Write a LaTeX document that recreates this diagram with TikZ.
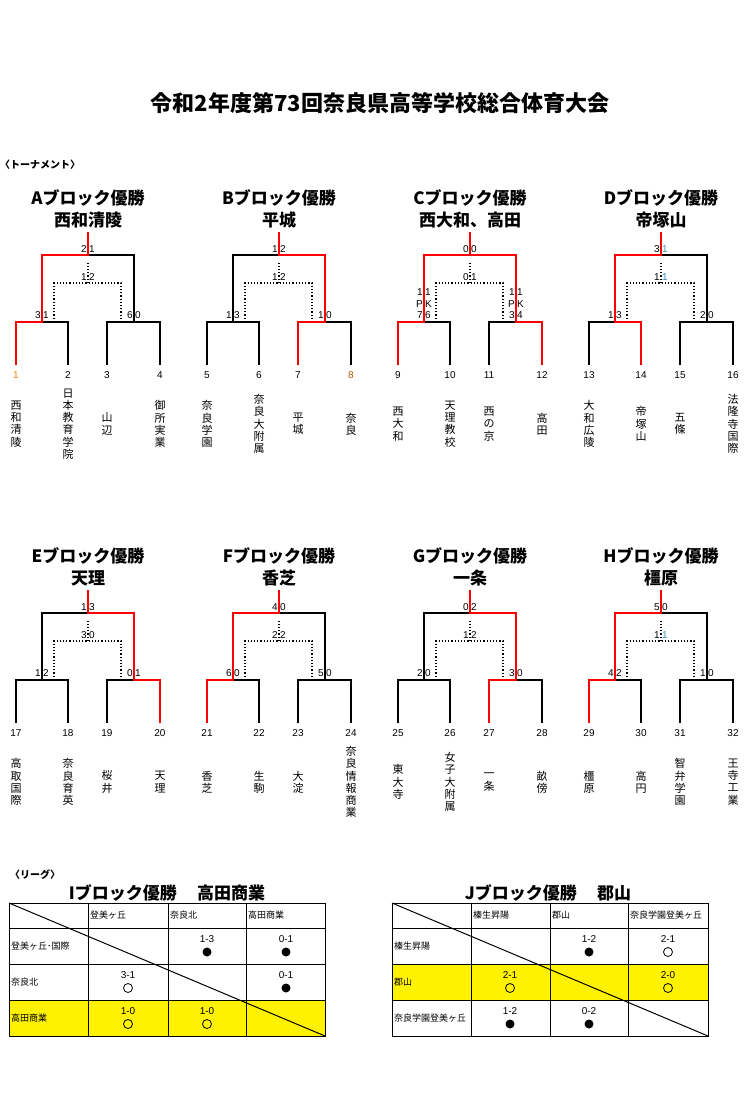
\documentclass[tikz,border=0pt]{standalone}
\usepackage{fontspec}
\setmainfont{Noto Sans CJK JP}
\newfontfamily\ar{Liberation Sans}
\tikzset{
 bl/.style={line width=1.4pt,black},
 wp/.style={line width=2.4pt,red},
 dl/.style={line width=1.2pt,dotted},
 sc/.style={font=\ar\fontsize{10}{11}\selectfont,inner sep=0pt},
 nm/.style={font=\fontsize{11}{12.3}\selectfont,align=center,inner sep=0pt},
 ttl/.style={font=\bfseries\fontsize{17}{19}\selectfont,inner sep=0pt},
 tx/.style={font=\fontsize{9}{10}\selectfont,inner sep=0pt},
 tb/.style={line width=1pt}
}
\newcommand\BB{%
 \coordinate (l1) at (16,365); \coordinate (l2) at (68,365);
 \coordinate (l3) at (107,365); \coordinate (l4) at (160,365);
 \coordinate (m1) at (42,322); \coordinate (m2) at (134,322);
 \coordinate (c) at (88,255); \coordinate (top) at (88,232);
 \coordinate (d1) at (54,322); \coordinate (dc) at (88,283);
 \coordinate (d2) at (121,322); \coordinate (ds) at (88,262);
 \coordinate (sT) at (88,249); \coordinate (sD) at (88,277);
 \coordinate (sL) at (42,315); \coordinate (sR) at (134,315);
 \draw[bl] (l1) |- (m1) -| (l2);
 \draw[bl] (l3) |- (m2) -| (l4);
 \draw[bl] (m1) |- (c) -| (m2);
 \draw[bl] (c) -- (top);
 \draw[dl] (d1) |- (dc) -| (d2);
 \draw[dl] (dc) -- (ds);}
\newcommand\Sc[3]{\node[sc,anchor=east] at ([xshift=-1]#1) {#2};\node[sc,anchor=west] at ([xshift=1]#1) {#3};}
\newcommand\Ttl[2]{\node[ttl] (t1) at (88,198) {#1ブロック優勝};\node[ttl] (t2) at (88,220) {#2};}
\newcommand\Lv[8]{%
 \node[sc] (n1) at (16,375) {#1};\node[sc] (n2) at (68,375) {#2};
 \node[sc] (n3) at (107,375) {#3};\node[sc] (n4) at (160,375) {#4};
 \node[nm] (w1) at (16,424) {#5};\node[nm] (w2) at (68,424) {#6};
 \node[nm] (w3) at (107,424) {#7};\node[nm] (w4) at (160,424) {#8};}
\begin{document}
\begin{tikzpicture}[x=1pt,y=-1pt]
\useasboundingbox[fill=white] (0,0) rectangle (751,1111);
\node[font=\bfseries\fontsize{22}{24}\selectfont] (title) at (380,103) {令和2年度第73回奈良県高等学校総合体育大会};
\node[font=\bfseries\fontsize{10}{11}\selectfont,anchor=west,inner sep=0pt] (tn) at (0,165) {〈トーナメント〉};
% A
\begin{scope}[shift={(0,0)},name prefix=A-]
\BB \draw[wp] (l1) |- (m1) |- (c) -- (top);
\Ttl{A}{西和清陵}
\Sc{sT}{2}{1}\Sc{sD}{1}{2}\Sc{sL}{3}{1}\Sc{sR}{6}{0}
\Lv{\color{orange}1}{2}{3}{4}{西\\和\\清\\陵}{日\\本\\教\\育\\学\\院}{山\\辺}{御\\所\\実\\業}
\end{scope}
% B
\begin{scope}[shift={(191,0)},name prefix=B-]
\BB \draw[wp] (l3) |- (m2) |- (c) -- (top);
\Ttl{B}{平城}
\Sc{sT}{1}{2}\Sc{sD}{1}{2}\Sc{sL}{1}{3}\Sc{sR}{1}{0}
\Lv{5}{6}{7}{\color{orange!70!black}8}{奈\\良\\学\\園}{奈\\良\\大\\附\\属}{平\\城}{奈\\良}
\end{scope}
% C
\begin{scope}[shift={(382,0)},name prefix=C-]
\BB \draw[wp] (l1) |- (m1) |- (c) -- (top); \draw[wp] (l4) |- (m2) |- (c);
\coordinate (p1) at (42,292); \coordinate (p2) at (42,304);
\coordinate (q1) at (134,292); \coordinate (q2) at (134,304);
\Ttl{C}{西大和、高田}
\Sc{sT}{0}{0}\Sc{sD}{0}{1}
\Sc{p1}{1}{1}\Sc{p2}{P}{K}\Sc{sL}{7}{6}
\Sc{q1}{1}{1}\Sc{q2}{P}{K}\Sc{sR}{3}{4}
\Lv{9}{10}{11}{12}{西\\大\\和}{天\\理\\教\\校}{西\\の\\京}{高\\田}
\end{scope}
% D
\begin{scope}[shift={(573,0)},name prefix=D-]
\BB \draw[wp] (l2) |- (m1) |- (c) -- (top);
\Ttl{D}{帝塚山}
\Sc{sT}{3}{\color{cyan!70!black}1}\Sc{sD}{1}{\color{cyan!70!black}1}\Sc{sL}{1}{3}\Sc{sR}{2}{0}
\Lv{13}{14}{15}{16}{大\\和\\広\\陵}{帝\\塚\\山}{五\\條}{法\\隆\\寺\\国\\際}
\end{scope}
% E
\begin{scope}[shift={(0,358)},name prefix=E-]
\BB \draw[wp] (l4) |- (m2) |- (c) -- (top);
\Ttl{E}{天理}
\Sc{sT}{1}{3}\Sc{sD}{3}{0}\Sc{sL}{1}{2}\Sc{sR}{0}{1}
\Lv{17}{18}{19}{20}{高\\取\\国\\際}{奈\\良\\育\\英}{桜\\井}{天\\理}
\end{scope}
% F
\begin{scope}[shift={(191,358)},name prefix=F-]
\BB \draw[wp] (l1) |- (m1) |- (c) -- (top);
\Ttl{F}{香芝}
\Sc{sT}{4}{0}\Sc{sD}{2}{2}\Sc{sL}{6}{0}\Sc{sR}{5}{0}
\Lv{21}{22}{23}{24}{香\\芝}{生\\駒}{大\\淀}{奈\\良\\情\\報\\商\\業}
\end{scope}
% G
\begin{scope}[shift={(382,358)},name prefix=G-]
\BB \draw[wp] (l3) |- (m2) |- (c) -- (top);
\Ttl{G}{一条}
\Sc{sT}{0}{2}\Sc{sD}{1}{2}\Sc{sL}{2}{0}\Sc{sR}{3}{0}
\Lv{25}{26}{27}{28}{東\\大\\寺}{女\\子\\大\\附\\属}{一\\条}{畝\\傍}
\end{scope}
% H
\begin{scope}[shift={(573,358)},name prefix=H-]
\BB \draw[wp] (l1) |- (m1) |- (c) -- (top);
\Ttl{H}{橿原}
\Sc{sT}{5}{0}\Sc{sD}{1}{\color{cyan!70!black}1}\Sc{sL}{4}{2}\Sc{sR}{1}{0}
\Lv{29}{30}{31}{32}{橿\\原}{高\\円}{智\\弁\\学\\園}{王\\寺\\工\\業}
\end{scope}
% League
\node[font=\bfseries\fontsize{10}{11}\selectfont,anchor=west,inner sep=0pt] (lg) at (10,875) {〈リーグ〉};
\node[ttl] (ti) at (167,893) {Iブロック優勝\hspace{1.2em}高田商業};
\node[ttl] (tj) at (548,893) {Jブロック優勝\hspace{1.2em}郡山};
% left table
\fill[yellow] (9,1000) rectangle (325,1036);
\draw[tb] (9,903) rectangle (325,1036);
\foreach \x in {88,168,246} \draw[tb] (\x,903) -- (\x,1036);
\foreach \y in {928,964,1000} \draw[tb] (9,\y) -- (325,\y);
\draw[tb] (9,903) -- (325,1036);
\node[tx,anchor=west] at (90,915) {登美ヶ丘};
\node[tx,anchor=west] at (170,915) {奈良北};
\node[tx,anchor=west] at (248,915) {高田商業};
\node[tx,anchor=west] at (11,946) {登美ヶ丘･国際};
\node[tx,anchor=west] at (11,982) {奈良北};
\node[tx,anchor=west] at (11,1018) {高田商業};
\newcommand\Res[4]{\node[sc] at (#1,#2) {#3};
 \ifnum#4=1 \fill (#1,#2+13) circle (4.5);\else \draw[line width=0.8pt] (#1,#2+13) circle (4.5);\fi}
\Res{207}{939}{1-3}{1}\Res{286}{939}{0-1}{1}
\Res{128}{975}{3-1}{0}\Res{286}{975}{0-1}{1}
\Res{128}{1011}{1-0}{0}\Res{207}{1011}{1-0}{0}
% right table
\fill[yellow] (392,964) rectangle (708,1000);
\draw[tb] (392,903) rectangle (708,1036);
\foreach \x in {471,550,628} \draw[tb] (\x,903) -- (\x,1036);
\foreach \y in {928,964,1000} \draw[tb] (392,\y) -- (708,\y);
\draw[tb] (392,903) -- (708,1036);
\node[tx,anchor=west] at (473,915) {榛生昇陽};
\node[tx,anchor=west] at (552,915) {郡山};
\begin{scope}\clip (628,903) rectangle (707,928);
\node[tx,anchor=west] at (630,915) {奈良学園登美ヶ丘};\end{scope}
\node[tx,anchor=west] at (394,946) {榛生昇陽};
\node[tx,anchor=west] at (394,982) {郡山};
\begin{scope}\clip (392,1000) rectangle (470,1036);
\node[tx,anchor=west] at (394,1018) {奈良学園登美ヶ丘};\end{scope}
\Res{589}{939}{1-2}{1}\Res{668}{939}{2-1}{0}
\Res{510}{975}{2-1}{0}\Res{668}{975}{2-0}{0}
\Res{510}{1011}{1-2}{1}\Res{589}{1011}{0-2}{1}
\end{tikzpicture}
\end{document}
